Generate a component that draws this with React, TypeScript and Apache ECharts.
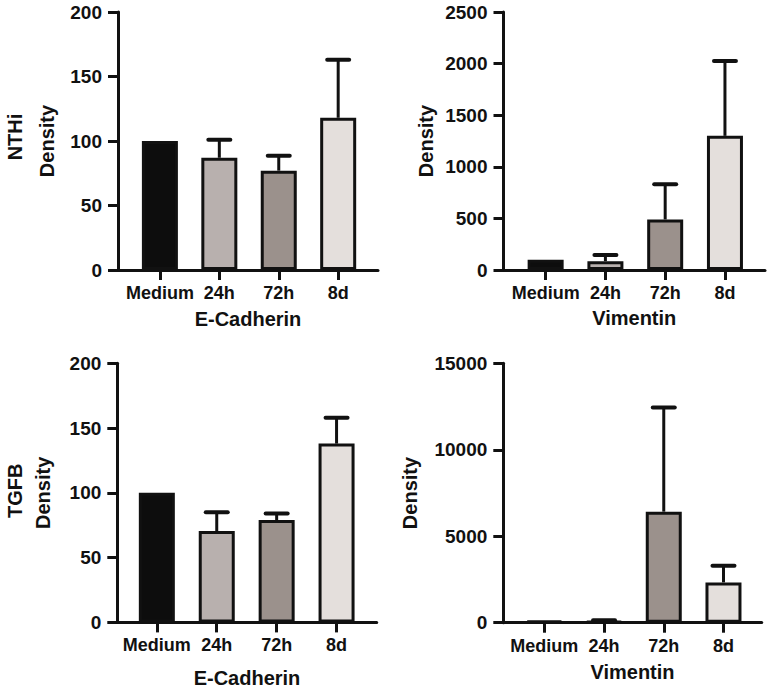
import React, { useEffect, useRef } from "react";
import * as echarts from "echarts";

const categories = ["Medium", "24h", "72h", "8d"];
const barColors = ["#0d0d0d", "#b8b0ae", "#9b918c", "#e4dfdc"];

// NTHi / E-Cadherin
const nthiEcadMean = [100, 87, 77, 118];
const nthiEcadErr = [0, 14, 11.5, 45];
// NTHi / Vimentin
const nthiVimMean = [100, 85, 490, 1300];
const nthiVimErr = [0, 60, 340, 725];
// TGFB / E-Cadherin
const tgfbEcadMean = [100, 70.5, 79, 138];
const tgfbEcadErr = [0, 14.5, 5, 20];
// TGFB / Vimentin
const tgfbVimMean = [100, 85, 6420, 2330];
const tgfbVimErr = [0, 60, 6030, 970];

const yMaxes = [200, 2500, 200, 15000];
const yIntervals = [50, 500, 50, 5000];
const xTitles = ["E-Cadherin", "Vimentin", "E-Cadherin", "Vimentin"];
const rowLabels = ["NTHi", "TGFB"];

const FONT = '"Liberation Sans", Arial, sans-serif';
const INK = "#111111";

export default function App() {
  const ref = useRef<HTMLDivElement>(null);

  useEffect(() => {
    if (!ref.current) return;
    const chart = echarts.init(ref.current, undefined, { renderer: "svg" });

    const means = [nthiEcadMean, nthiVimMean, tgfbEcadMean, tgfbVimMean];
    const errs = [nthiEcadErr, nthiVimErr, tgfbEcadErr, tgfbVimErr];

    const grids = [
      { left: 118, top: 12, width: 260, height: 258 },
      { left: 503.5, top: 12, width: 261.5, height: 258 },
      { left: 117.3, top: 363.3, width: 259.4, height: 259.4 },
      { left: 503.3, top: 363.3, width: 258.4, height: 259.4 },
    ];
    const xRanges = [
      [-0.705, 3.67],
      [-0.705, 3.67],
      [-0.66, 3.67],
      [-0.687, 3.64],
    ];
    const xNameGaps = [39, 38, 45.6, 39];
    const yNameGaps = [61, 68, 64, 83];

    const xAxis: any[] = [];
    const yAxis: any[] = [];
    const series: any[] = [];

    for (let k = 0; k < 4; k++) {
      xAxis.push({
        type: "value",
        gridIndex: k,
        min: xRanges[k][0],
        max: xRanges[k][1],
        name: xTitles[k],
        nameLocation: "middle",
        nameGap: xNameGaps[k],
        nameTextStyle: { fontFamily: FONT, fontWeight: "bold", fontSize: 20, color: INK },
        axisLine: { show: true, onZero: false, lineStyle: { color: INK, width: 3 } },
        axisTick: { show: true, customValues: [0, 1, 2, 3], length: 10, lineStyle: { color: INK, width: 3 } },
        axisLabel: {
          show: true,
          customValues: [0, 1, 2, 3],
          margin: 14,
          formatter: (v: number) => categories[Math.round(v)] ?? "",
          fontFamily: FONT,
          fontWeight: "bold",
          fontSize: 18,
          color: INK,
        },
        splitLine: { show: false },
      });
      yAxis.push({
        type: "value",
        gridIndex: k,
        min: 0,
        max: yMaxes[k],
        interval: yIntervals[k],
        name: "Density",
        nameLocation: "middle",
        nameRotate: 90,
        nameGap: yNameGaps[k],
        nameTextStyle: { fontFamily: FONT, fontWeight: "bold", fontSize: 20, color: INK },
        axisLine: { show: true, onZero: false, lineStyle: { color: INK, width: 3 } },
        axisTick: { show: true, length: 10, lineStyle: { color: INK, width: 3 } },
        axisLabel: {
          margin: 16,
          formatter: (v: number) => String(v),
          fontFamily: FONT,
          fontWeight: "bold",
          fontSize: 19,
          color: INK,
        },
        splitLine: { show: false },
      });
      series.push({
        type: "bar",
        xAxisIndex: k,
        yAxisIndex: k,
        barWidth: 36,
        data: categories.map((_, i) => ({
          value: [i, means[k][i]],
          itemStyle: { color: barColors[i], borderColor: INK, borderWidth: 3 },
        })),
      });
      series.push({
        type: "custom",
        xAxisIndex: k,
        yAxisIndex: k,
        z: 5,
        encode: { x: 0, y: [1, 2] },
        data: categories
          .map((_, i) => [i, means[k][i], means[k][i] + errs[k][i]])
          .filter((d) => d[2] > d[1]),
        renderItem: (params: any, api: any) => {
          const x = api.value(0);
          const lo = api.value(1);
          const hi = api.value(2);
          const p0 = api.coord([x, lo]);
          const p1 = api.coord([x, hi]);
          return {
            type: "group",
            children: [
              {
                type: "line",
                shape: { x1: p0[0], y1: p0[1], x2: p1[0], y2: p1[1] },
                style: { stroke: INK, lineWidth: 3 },
              },
              {
                type: "line",
                shape: { x1: p1[0] - 11, y1: p1[1], x2: p1[0] + 11, y2: p1[1] },
                style: { stroke: INK, lineWidth: 4, lineCap: "round" },
              },
            ],
          };
        },
      });
    }

    chart.setOption({
      animation: false,
      backgroundColor: "#ffffff",
      grid: grids,
      xAxis,
      yAxis,
      series,
      graphic: [
        {
          type: "text",
          x: 15,
          y: 137,
          rotation: Math.PI / 2,
          style: {
            text: rowLabels[0],
            fontFamily: FONT,
            fontWeight: "bold",
            fontSize: 20,
            fill: INK,
            align: "center",
            verticalAlign: "middle",
          },
        },
        {
          type: "text",
          x: 15,
          y: 490.7,
          rotation: Math.PI / 2,
          style: {
            text: rowLabels[1],
            fontFamily: FONT,
            fontWeight: "bold",
            fontSize: 20,
            fill: INK,
            align: "center",
            verticalAlign: "middle",
          },
        },
      ],
    });

    return () => chart.dispose();
  }, []);

  return (
    <div
      ref={ref}
      style={{ position: "fixed", left: 0, top: 0, width: 771, height: 689, background: "#fff" }}
    />
  );
}
